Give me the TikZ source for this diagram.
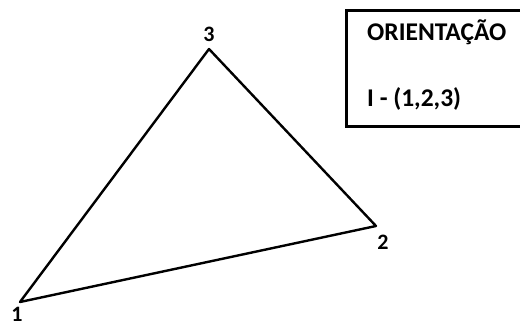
\documentclass[tikz,border=0pt]{standalone}
\usepackage{fontspec}
\setmainfont{Carlito}
\usepackage{tikz}
\usetikzlibrary{positioning}

\begin{document}
\begin{tikzpicture}[x=1pt,y=-1pt,
      lbl/.style={font=\fontsize{22}{26}\selectfont\bfseries, inner sep=0pt},
      txt/.style={font=\fontsize{25.5}{28}\selectfont\bfseries, inner sep=0pt, anchor=base west},
      edge/.style={line width=2.4pt, line join=round}]
    \useasboundingbox (0,0) rectangle (520,327);
    \coordinate (v1) at (20,302);
    \coordinate (v2) at (376,226);
    \coordinate (v3) at (209,49);
    \node[lbl] (n1) at (17,314) {1};
    \node[lbl] (n2) at (383,242) {2};
    \node[lbl] (n3) at (209,34) {3};
    \draw[edge] (v1) -- (v2) -- (v3) -- cycle;
    % caixa
    \begin{scope}
      \clip (0,0) rectangle (520,327);
      \draw[line width=3pt] (346.5,10.5) rectangle (540,126.5);
    \end{scope}
    \node[txt] (ori) at (367,40) {ORIENTAÇÃO};
    \node[txt] (ord) at (367,106) {I - (1,2,3)};
  \end{tikzpicture}
\end{document}
